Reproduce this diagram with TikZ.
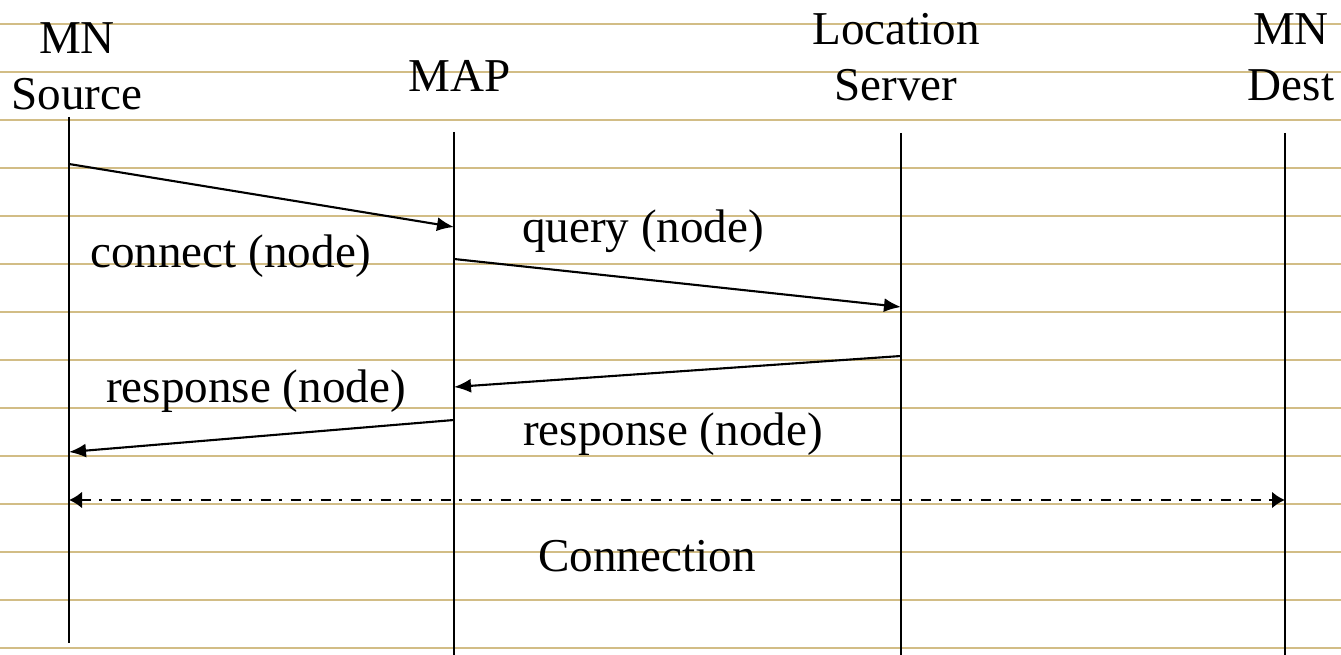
\documentclass[tikz,border=0pt]{standalone}
\usepackage{fontspec}
\setmainfont{Liberation Serif}
\usepackage{tikz}
\usetikzlibrary{arrows.meta}
\definecolor{ruletan}{RGB}{210,189,134}
\tikzset{
  lbl/.style={font=\fontsize{13.4}{16.2}\selectfont,inner sep=0pt,anchor=base,align=center},
  lifeline/.style={line width=0.6pt},
  msg/.style={line width=0.6pt,-{Latex[length=1.7mm,width=1.4mm]}},
  ruled/.style={ruletan,line width=0.7pt}
}

\begin{document}
\begin{tikzpicture}

      \useasboundingbox (0,0) rectangle (13.41,6.55);

      % paper rules
      \foreach \k in {0,...,13}
        \draw [ruled] (0,{6.31-0.48*\k}) -- (13.41,{6.31-0.48*\k});

      % actors (base = last line)
      \node [lbl] (src) at (0.77,5.45) {MN\\Source};
      \node [lbl] (map) at (4.60,5.63) {MAP};
      \node [lbl] (loc) at (8.96,5.54) {Location\\Server};
      \node [lbl] (dst) at (12.91,5.54) {MN\\Dest};

      % lifelines
      \coordinate (srcT) at (0.69,5.38);  \coordinate (srcB) at (0.69,0.12);
      \coordinate (mapT) at (4.54,5.23);  \coordinate (mapB) at (4.54,0);
      \coordinate (locT) at (9.01,5.22);  \coordinate (locB) at (9.01,0);
      \coordinate (dstT) at (12.85,5.22); \coordinate (dstB) at (12.85,0);
      \draw [lifeline] (srcT) -- (srcB);
      \draw [lifeline] (mapT) -- (mapB);
      \draw [lifeline] (locT) -- (locB);
      \draw [lifeline] (dstT) -- (dstB);

      % connect
      \coordinate (c0) at (0.69,4.91); \coordinate (c1) at (4.54,4.28);
      \draw [msg] (c0) -- (c1);
      \node [lbl] (connect) at (2.31,3.87) {connect (node)};

      % query
      \coordinate (q0) at (4.54,3.96); \coordinate (q1) at (9.01,3.48);
      \draw [msg] (q0) -- (q1);
      \node [lbl] (query) at (6.43,4.12) {query (node)};

      % responses
      \coordinate (r0) at (9.01,2.99); \coordinate (r1) at (4.54,2.68);
      \draw [msg] (r0) -- (r1);
      \node [lbl] (respA) at (2.56,2.52) {response (node)};

      \coordinate (s0) at (4.54,2.35); \coordinate (s1) at (0.69,2.03);
      \draw [msg] (s0) -- (s1);
      \node [lbl] (respB) at (6.73,2.09) {response (node)};

      % connection
      \coordinate (k0) at (0.69,1.55); \coordinate (k1) at (12.85,1.55);
      \draw [line width=0.85pt,dash pattern=on 0.10cm off 0.085cm on 0.03cm off 0.085cm,
             {Latex[length=1.3mm,width=1.7mm]}-{Latex[length=1.3mm,width=1.7mm]}] (k0) -- (k1);
      \node [lbl] (conn) at (6.47,0.83) {Connection};

\end{tikzpicture}
\end{document}
